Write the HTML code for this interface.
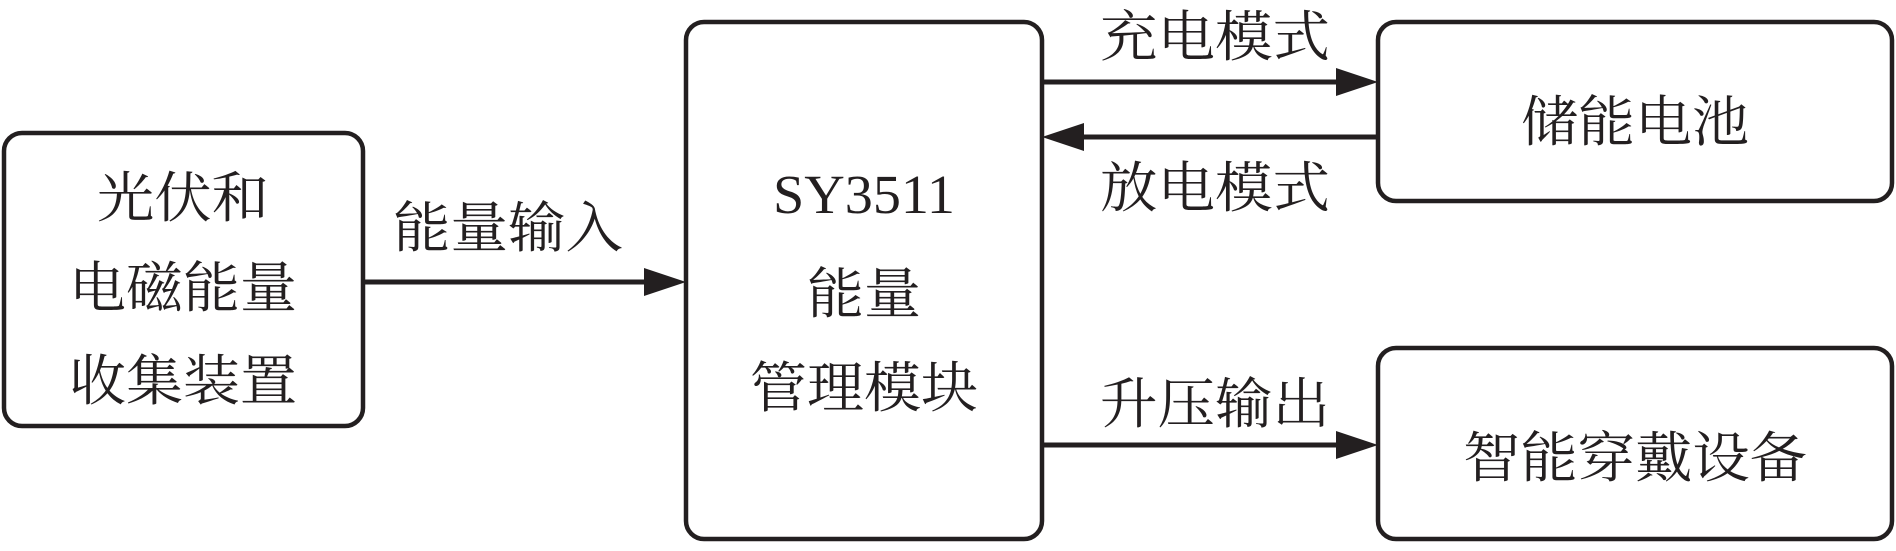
<!DOCTYPE html>
<html><head><meta charset="utf-8"><style>html,body{margin:0;padding:0;background:#fff}</style></head>
<body>
<svg width="1896" height="546" viewBox="0 0 1896 546" xmlns="http://www.w3.org/2000/svg" font-family="'Liberation Serif','Noto Serif CJK SC',serif" font-size="55" fill="#231f20">
<g fill="none" stroke="#231f20" stroke-width="4.5">
<rect x="4" y="133" width="359" height="293" rx="18"/>
<rect x="686" y="22" width="356" height="517" rx="18"/>
<rect x="1378" y="22" width="514" height="179" rx="18"/>
<rect x="1378" y="348" width="514" height="191" rx="18"/>
</g>
<g stroke="#231f20" stroke-width="5">
<line x1="363" y1="282" x2="646" y2="282"/><path d="M644,268 L686,282 L644,296 z" fill="#231f20" stroke="none"/>
<line x1="1042" y1="82" x2="1338" y2="82"/><path d="M1336,68 L1378,82 L1336,96 z" fill="#231f20" stroke="none"/>
<line x1="1082" y1="137" x2="1378" y2="137"/><path d="M1084,123 L1042,137 L1084,151 z" fill="#231f20" stroke="none"/>
<line x1="1042" y1="445" x2="1338" y2="445"/><path d="M1336,431 L1378,445 L1336,459 z" fill="#231f20" stroke="none"/>
</g>
<g text-anchor="middle">
<text x="183" y="217" textLength="172" lengthAdjust="spacingAndGlyphs">光伏和</text>
<text x="183" y="307" textLength="228" lengthAdjust="spacingAndGlyphs">电磁能量</text>
<text x="183" y="400" textLength="228" lengthAdjust="spacingAndGlyphs">收集装置</text>
<text x="864" y="213" textLength="182" lengthAdjust="spacingAndGlyphs">SY3511</text>
<text x="864" y="313" textLength="114" lengthAdjust="spacingAndGlyphs">能量</text>
<text x="864" y="407" textLength="228" lengthAdjust="spacingAndGlyphs">管理模块</text>
<text x="508" y="247" textLength="230" lengthAdjust="spacingAndGlyphs">能量输入</text>
<text x="1215" y="56" textLength="230" lengthAdjust="spacingAndGlyphs">充电模式</text>
<text x="1215" y="207" textLength="230" lengthAdjust="spacingAndGlyphs">放电模式</text>
<text x="1215" y="423" textLength="230" lengthAdjust="spacingAndGlyphs">升压输出</text>
<text x="1635" y="141" textLength="228" lengthAdjust="spacingAndGlyphs">储能电池</text>
<text x="1635" y="477" textLength="344" lengthAdjust="spacingAndGlyphs">智能穿戴设备</text>
</g>
</svg>
</body></html>
